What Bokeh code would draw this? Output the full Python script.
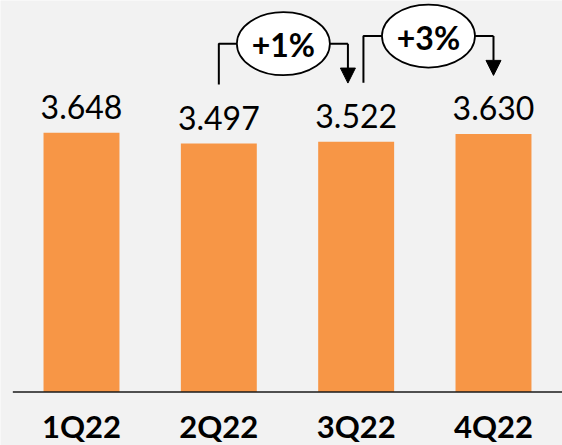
from bokeh.plotting import figure
from bokeh.models import Range1d, Arrow, NormalHead
from bokeh.core.properties import value
from bokeh.embed import file_html
from bokeh.resources import INLINE

# ---- data ----
quarters = ["1Q22", "2Q22", "3Q22", "4Q22"]
values = [3.648, 3.497, 3.522, 3.630]
value_labels = ["3.648", "3.497", "3.522", "3.630"]
change_labels = ["+1%", "+3%"]
change_from = [1, 2]
change_to = [2, 3]

# ---- layout / style ----
BG = "#f2f2f2"
ORANGE = "#f79646"
FONT = "Lato"
bracket_left_shift = [0.0, 0.053]
bracket_right_shift = [-0.06, 0.0]
start_gap = 0.83      # data units above start bar
tip_gap = 0.826       # data units above end bar
top_gap = 1.38        # data units above higher bar

xs = list(range(len(quarters)))

p = figure(width=562, height=445,
           x_range=Range1d(-0.5898, 3.5025), y_range=Range1d(-0.753, 5.510),
           output_backend="svg", toolbar_location=None,
           x_axis_location=None, y_axis_location=None,
           min_border=0, background_fill_color=BG, border_fill_color=BG,
           outline_line_color=None)
p.grid.visible = False

p.vbar(x=xs, top=values, bottom=0, width=0.553, fill_color=ORANGE, line_color=None)

# axis baseline
p.segment(x0=[xs[0] - 0.5], y0=[0], x1=[xs[-1] + 0.5], y1=[0],
          line_color="#1a1a1a", line_width=1.5)

# value labels
p.text(x=xs, y=values, text=value_labels, text_font=value(FONT),
       text_font_size="32px", text_align="center", text_baseline="alphabetic",
       y_offset=-26, text_color="black")

# category labels
p.text(x=xs, y=[0] * len(xs), text=quarters, text_font=value(FONT),
       text_font_style="bold", text_font_size="31px", text_align="center",
       text_baseline="alphabetic", y_offset=34, text_color="black")

# change brackets
for k, lab in enumerate(change_labels):
    i, j = change_from[k], change_to[k]
    xl = xs[i] + bracket_left_shift[k]
    xr = xs[j] + bracket_right_shift[k]
    ys = values[i] + start_gap
    yt = values[j] + tip_gap
    ytop = max(values[i], values[j]) + top_gap
    p.line(x=[xl, xl, xr], y=[ys, ytop, ytop], line_color="black", line_width=2)
    p.add_layout(Arrow(end=NormalHead(size=15, fill_color="black", line_color="black", line_width=1),
                       x_start=xr, y_start=ytop, x_end=xr, y_end=yt,
                       line_color="black", line_width=2))
    xm = (xl + xr) / 2
    p.ellipse(x=[xm], y=[ytop], width=93, height=63, width_units="screen",
              height_units="screen", fill_color="white", line_color="black",
              line_width=1.75)
    p.text(x=[xm], y=[ytop], text=[lab], text_font=value(FONT), text_font_style="bold",
           text_font_size="32px", text_align="center", text_baseline="alphabetic",
           y_offset=1, text_color="black")

html = file_html(p, INLINE, title="chart")
html = html.replace("<body>", '<body style="background-color:#f2f2f2;">', 1)
open("out.html", "w").write(html)
